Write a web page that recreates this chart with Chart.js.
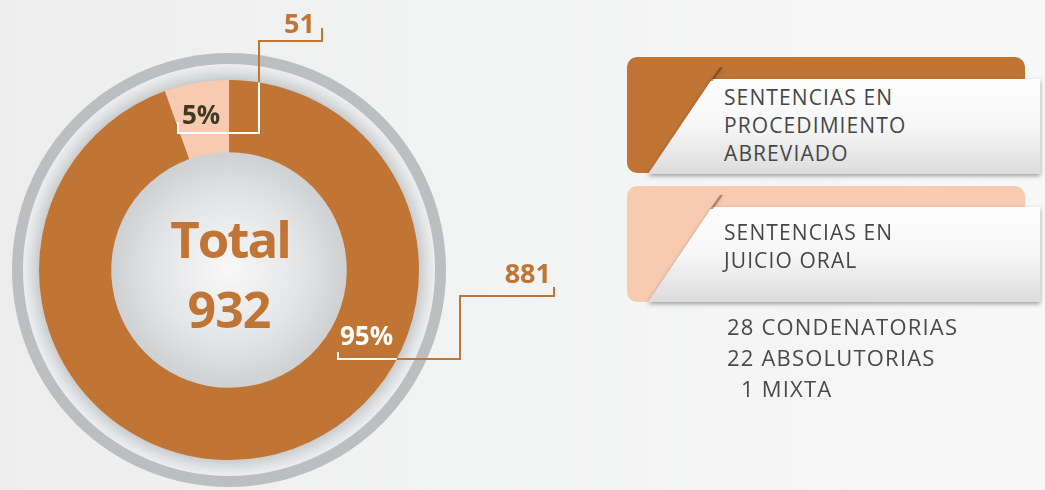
<!DOCTYPE html>
<html>
<head>
<meta charset="utf-8">
<script src="https://cdn.jsdelivr.net/npm/chart.js@4/dist/chart.umd.min.js"></script>
<style>
  html, body { margin:0; padding:0; }
  body {
    width:1045px; height:490px; overflow:hidden; position:relative;
    background: linear-gradient(90deg, #ededed 0%, #f2f3f3 45%, #f7f7f7 100%);
    font-family: "Open Sans", sans-serif;
  }
  #chart { position:absolute; left:0; top:0; }
  .box { position:absolute; left:627px; width:398px; height:116px; border-radius:10px; }
  .panel-wrap { position:absolute; left:648px; width:397px; height:107px; filter: drop-shadow(0 2px 2px rgba(0,0,0,0.35)); }
  .panel {
    width:100%; height:100%;
    clip-path: polygon(64px 12px, 392px 12px, 392px 107px, 0 107px);
    background: linear-gradient(180deg, #ffffff 0%, #f7f7f7 55%, #dcdcdc 100%);
  }
  .fold { position:absolute; left:0; top:0; width:100%; height:100%;
    clip-path: polygon(72px 0, 75px 0, 65px 14px, 62px 14px);
    background: rgba(60,40,20,0.4); }
  .label { position:absolute; left:724px; font-size:21px; line-height:28px; letter-spacing:1.1px; color:#474747; }
  #detail { position:absolute; left:727px; top:311px; font-size:22px; line-height:31px; letter-spacing:1.2px; color:#4a4a4a; }
</style>
</head>
<body>
<canvas id="chart" width="1045" height="490"></canvas>

<div class="box" id="box0" style="top:57px;"></div>
<div class="panel-wrap" style="top:67px;"><div class="panel"></div><div class="fold"></div></div>
<div class="label" id="lab0" style="top:83px;"></div>

<div class="box" id="box1" style="top:186px;"></div>
<div class="panel-wrap" style="top:195px;"><div class="panel"></div><div class="fold"></div></div>
<div class="label" id="lab1" style="top:218px;"></div>

<div id="detail"></div>

<script>
// data
const categories = ['SENTENCIAS EN PROCEDIMIENTO ABREVIADO', 'SENTENCIAS EN JUICIO ORAL'];
const legendLines = [['SENTENCIAS EN', 'PROCEDIMIENTO', 'ABREVIADO'], ['SENTENCIAS EN', 'JUICIO ORAL']];
const values = [881, 51];
const sliceColors = ['#c07535', '#f8cbb1'];
const juicioDetail = ['28 CONDENATORIAS', '22 ABSOLUTORIAS', '1 MIXTA'];

const total = values.reduce((a, b) => a + b, 0);
const orange = '#c07535';

// legend boxes on the right
legendLines.forEach((lines, i) => {
  document.getElementById('box' + i).style.background = sliceColors[i];
  document.getElementById('lab' + i).innerHTML = lines.join('<br>');
});
document.getElementById('detail').innerHTML = juicioDetail.map((t, i) =>
  i === 2 ? '<span style="padding-left:14px">' + t + '</span>' : t).join('<br>');

// leader lines, offsets from centre of the doughnut
const leaders = [
  [[109, 82], [109, 89], [231, 89], [231, 26], [325, 26], [325, 17]],
  [[-51, -148], [-51, -137], [30, -137], [30, -229], [93, -229], [93, -242]]
];

const deco = {
  id: 'deco',
  beforeDatasetsDraw(chart) {
    const ctx = chart.ctx;
    const arc = chart.getDatasetMeta(0).data[0];
    const cx = arc.x, cy = arc.y, R = arc.outerRadius, r = arc.innerRadius;
    ctx.save();
    // outer grey ring
    ctx.beginPath(); ctx.arc(cx, cy, R + 27, 0, Math.PI * 2);
    ctx.fillStyle = '#bdbec0'; ctx.fill();
    const g1 = ctx.createRadialGradient(cx, cy, R, cx, cy, R + 16);
    g1.addColorStop(0, '#cbcccd'); g1.addColorStop(0.6, '#e2e3e4'); g1.addColorStop(1, '#eeeeef');
    ctx.beginPath(); ctx.arc(cx, cy, R + 16, 0, Math.PI * 2);
    ctx.fillStyle = g1; ctx.fill();
    // centre disc
    const g2 = ctx.createRadialGradient(cx, cy, 0, cx, cy, r);
    g2.addColorStop(0, '#f8f8f8'); g2.addColorStop(0.6, '#e4e5e6'); g2.addColorStop(1, '#cfd0d2');
    ctx.beginPath(); ctx.arc(cx, cy, r + 1, 0, Math.PI * 2);
    ctx.fillStyle = g2; ctx.fill();
    ctx.restore();
  },
  afterDatasetsDraw(chart) {
    const ctx = chart.ctx;
    const arc = chart.getDatasetMeta(0).data[0];
    const cx = arc.x, cy = arc.y, R = arc.outerRadius;
    ctx.save();
    // centre text
    ctx.fillStyle = orange;
    ctx.textAlign = 'center';
    ctx.textBaseline = 'alphabetic';
    ctx.letterSpacing = '-2px';
    ctx.font = 'bold 51px "Open Sans"';
    ctx.fillText('Total', cx + 1, cy - 12);
    ctx.letterSpacing = '-1px';
    ctx.font = 'bold 50px "Open Sans"';
    ctx.fillText(String(total), cx, cy + 58);
    ctx.letterSpacing = '0px';

    // leader lines: orange outside, white inside the ring
    const path = pts => {
      ctx.beginPath();
      pts.forEach(([dx, dy], k) => k ? ctx.lineTo(cx + dx, cy + dy) : ctx.moveTo(cx + dx, cy + dy));
    };
    ctx.lineWidth = 2;
    leaders.forEach(pts => { path(pts); ctx.strokeStyle = orange; ctx.stroke(); });
    ctx.save();
    ctx.beginPath(); ctx.arc(cx, cy, R, 0, Math.PI * 2); ctx.clip();
    leaders.forEach(pts => { path(pts); ctx.strokeStyle = '#ffffff'; ctx.stroke(); });
    ctx.restore();

    // percentages and values
    const pct = values.map(v => Math.round(v / total * 100) + '%');
    ctx.textAlign = 'left';
    ctx.font = 'bold 26px "Open Sans"';
    ctx.fillStyle = '#ffffff';
    ctx.fillText(pct[0], cx + 111, cy + 75);
    ctx.fillStyle = '#3f3a26';
    ctx.fillText(pct[1], cx - 47, cy - 146);
    ctx.textAlign = 'right';
    ctx.font = 'bold 27px "Open Sans"';
    ctx.fillStyle = orange;
    ctx.fillText(String(values[0]), cx + 322, cy + 13);
    ctx.fillText(String(values[1]), cx + 86, cy - 237);
    ctx.restore();
  }
};

new Chart(document.getElementById('chart'), {
  type: 'doughnut',
  data: {
    labels: categories,
    datasets: [{ data: values, backgroundColor: sliceColors, borderWidth: 0 }]
  },
  options: {
    responsive: false,
    animation: false,
    cutout: '62%',
    layout: { padding: { left: 39, right: 626, top: 80, bottom: 30 } },
    plugins: { legend: { display: false }, tooltip: { enabled: false } }
  },
  plugins: [deco]
});
</script>
</body>
</html>
